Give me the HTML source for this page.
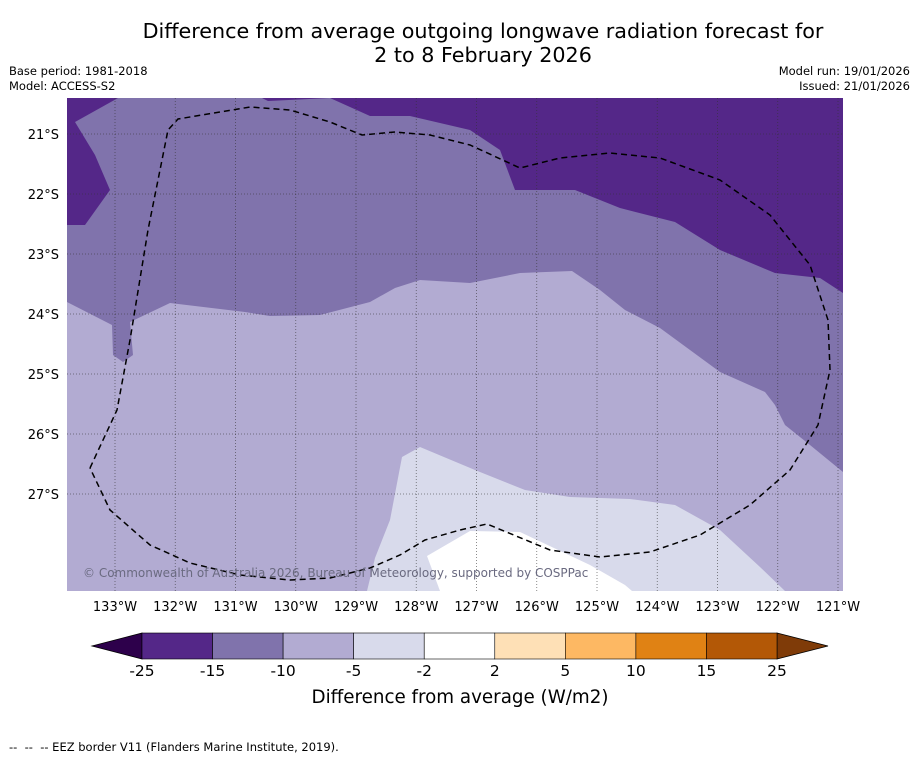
<!DOCTYPE html>
<html><head><meta charset="utf-8"><style>
body{margin:0;background:#fff;width:919px;height:758px;overflow:hidden;font-family:"DejaVu Sans","Liberation Sans",sans-serif}
svg{display:block}
</style></head><body>
<svg width="919" height="758" id="chart" font-family="DejaVu Sans, Liberation Sans, sans-serif">
<text x="483" y="38" text-anchor="middle" font-size="20.7">Difference from average outgoing longwave radiation forecast for</text>
<text x="483" y="62" text-anchor="middle" font-size="20.7">2 to 8 February 2026</text>
<text x="9" y="75" font-size="11.5">Base period: 1981-2018</text>
<text x="9" y="90" font-size="11.5">Model: ACCESS-S2</text>
<text x="910" y="75" font-size="11.5" text-anchor="end">Model run: 19/01/2026</text>
<text x="910" y="90" font-size="11.5" text-anchor="end">Issued: 21/01/2026</text>
<defs><clipPath id="mapclip"><rect x="67" y="98" width="776" height="493"/></clipPath></defs>
<g id="map" clip-path="url(#mapclip)">
<rect x="67" y="98" width="776" height="493" fill="#542788"/>
<polygon fill="#8073ac" points="67,225 85,225 110,190 95,155 75,122 118,98 262,98 268,101 330,98 370,116 410,116 470,130 500,150 515,190 575,190 620,208 675,222 720,250 775,273 820,278 843,293 843,591 67,591"/>
<polygon fill="#b2abd2" points="67,302 112,325 113,355 123,362 133,355 130,322 170,303 245,312 270,316 320,315 370,302 395,288 420,280 470,283 520,273 572,271 600,290 625,310 660,328 690,350 720,372 765,392 775,405 785,425 810,445 843,472 843,591 67,591"/>
<polygon fill="#d8daeb" points="367,591 375,558 390,520 402,457 420,447 475,470 525,490 570,497 630,499 675,505 720,530 760,567 785,591 800,591"/>
<polygon fill="#ffffff" points="427,556 470,531 520,532 590,565 625,585 632,591 440,591"/>
<g id="grid"></g>
<polyline fill="none" stroke="#000" stroke-width="1.5" stroke-dasharray="6,4" points="90,468 117,410 130,340 148,230 168,130 178,119 250,107 290,110 330,122 362,135 395,132 430,135 470,145 520,168 560,158 610,153 660,158 720,180 770,215 810,265 828,320 830,370 818,425 790,470 750,505 700,535 650,552 600,557 550,550 487,524 460,530 425,540 400,555 370,568 330,578 290,580 240,575 190,563 150,545 110,510 90,468"/>
<text x="83" y="577" font-size="12" fill="#6a6a80">© Commonwealth of Australia 2026, Bureau of Meteorology, supported by COSPPac</text>
</g>
<g id="axes"></g>
<g id="cbar"></g>
<text x="460" y="703" text-anchor="middle" font-size="18.3">Difference from average (W/m2)</text>
<text x="9" y="751" font-size="11.5">--&#160; --&#160; -- EEZ border V11 (Flanders Marine Institute, 2019).</text>
</svg>
<script>
const lonTicks=[-133,-132,-131,-130,-129,-128,-127,-126,-125,-124,-123,-122,-121];
const latTicks=[-21,-22,-23,-24,-25,-26,-27];
const levels=[-25,-15,-10,-5,-2,2,5,10,15,25];
const levelColors=['#542788','#8073ac','#b2abd2','#d8daeb','#ffffff','#fee0b6','#fdb863','#e08214','#b35806'];
const underColor='#2d004b', overColor='#7f3b08';
const NS='http://www.w3.org/2000/svg';
function xLon(l){return 115+(l+133)*60.25;}
function yLat(l){return 134+(-21-l)*60;}
function mk(t,a,p){const e=document.createElementNS(NS,t);for(const k in a)e.setAttribute(k,a[k]);p.appendChild(e);return e;}
const grid=document.getElementById('grid'),axes=document.getElementById('axes'),cb=document.getElementById('cbar');
lonTicks.forEach(l=>{
 const x=xLon(l);
 const g=mk('line',{x1:x,x2:x,y1:98,y2:591,stroke:'#333','stroke-width':0.8,'stroke-dasharray':'1,2',opacity:0.7},grid);
 
 
 const t=mk('text',{x:x,y:611,'text-anchor':'middle','font-size':13},axes);
 t.textContent=Math.abs(l)+'°W';
 
 
});
latTicks.forEach(l=>{
 const y=yLat(l);
 const g=mk('line',{x1:67,x2:843,y1:y,y2:y,stroke:'#333','stroke-width':0.8,'stroke-dasharray':'1,2',opacity:0.7},grid);
 
 
 const t=mk('text',{x:59,y:y+5,'text-anchor':'end','font-size':13},axes);
 t.textContent=Math.abs(l)+'°S';
 
 
});
const cx0=142,cx1=777,cy=633,ch=26,n=levels.length-1,w=(cx1-cx0)/n;
const lt=mk('polygon',{points:`${cx0},${cy} 92,${cy+ch/2} ${cx0},${cy+ch}`,fill:underColor,stroke:'#000','stroke-width':0.8},cb);


const rt=mk('polygon',{points:`${cx1},${cy} 828,${cy+ch/2} ${cx1},${cy+ch}`,fill:overColor,stroke:'#000','stroke-width':0.8},cb);


for(let i=0;i<n;i++){
 const r=mk('rect',{x:cx0+i*w,y:cy,width:w,height:ch,fill:levelColors[i],stroke:'#000','stroke-width':0.6},cb);
 
 
}
levels.forEach((v,i)=>{
 const t=mk('text',{x:cx0+i*w,y:676,'text-anchor':'middle','font-size':15.5},cb);
 t.textContent=v;
 
 
});
</script>
</body></html>
